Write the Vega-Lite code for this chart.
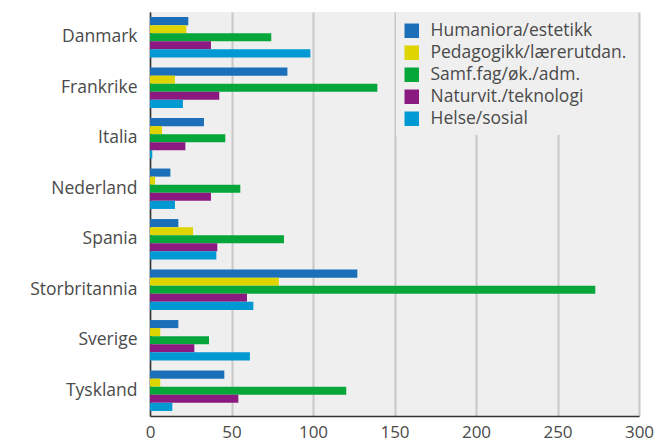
{
  "$schema": "https://vega.github.io/schema/vega-lite/v6.json",
  "autosize": {"type": "none"},
  "padding": {"left": 150, "top": 12, "right": 16, "bottom": 25},
  "width": 489,
  "height": 404,
  "background": "white",
  "data": {
    "values": [
      {"land": "Danmark", "fag": "Humaniora/estetikk", "verdi": 23.5},
      {"land": "Danmark", "fag": "Pedagogikk/lærerutdan.", "verdi": 22.3},
      {"land": "Danmark", "fag": "Samf.fag/øk./adm.", "verdi": 74.4},
      {"land": "Danmark", "fag": "Naturvit./teknologi", "verdi": 37.4},
      {"land": "Danmark", "fag": "Helse/sosial", "verdi": 98.4},
      {"land": "Frankrike", "fag": "Humaniora/estetikk", "verdi": 84.3},
      {"land": "Frankrike", "fag": "Pedagogikk/lærerutdan.", "verdi": 15.3},
      {"land": "Frankrike", "fag": "Samf.fag/øk./adm.", "verdi": 139.5},
      {"land": "Frankrike", "fag": "Naturvit./teknologi", "verdi": 42.5},
      {"land": "Frankrike", "fag": "Helse/sosial", "verdi": 20.2},
      {"land": "Italia", "fag": "Humaniora/estetikk", "verdi": 33.1},
      {"land": "Italia", "fag": "Pedagogikk/lærerutdan.", "verdi": 7.4},
      {"land": "Italia", "fag": "Samf.fag/øk./adm.", "verdi": 46.2},
      {"land": "Italia", "fag": "Naturvit./teknologi", "verdi": 21.7},
      {"land": "Italia", "fag": "Helse/sosial", "verdi": 1.4},
      {"land": "Nederland", "fag": "Humaniora/estetikk", "verdi": 12.5},
      {"land": "Nederland", "fag": "Pedagogikk/lærerutdan.", "verdi": 3.1},
      {"land": "Nederland", "fag": "Samf.fag/øk./adm.", "verdi": 55.4},
      {"land": "Nederland", "fag": "Naturvit./teknologi", "verdi": 37.4},
      {"land": "Nederland", "fag": "Helse/sosial", "verdi": 15.3},
      {"land": "Spania", "fag": "Humaniora/estetikk", "verdi": 17.4},
      {"land": "Spania", "fag": "Pedagogikk/lærerutdan.", "verdi": 26.4},
      {"land": "Spania", "fag": "Samf.fag/øk./adm.", "verdi": 82.2},
      {"land": "Spania", "fag": "Naturvit./teknologi", "verdi": 41.3},
      {"land": "Spania", "fag": "Helse/sosial", "verdi": 40.7},
      {"land": "Storbritannia", "fag": "Humaniora/estetikk", "verdi": 127.2},
      {"land": "Storbritannia", "fag": "Pedagogikk/lærerutdan.", "verdi": 79.1},
      {"land": "Storbritannia", "fag": "Samf.fag/øk./adm.", "verdi": 273.2},
      {"land": "Storbritannia", "fag": "Naturvit./teknologi", "verdi": 59.5},
      {"land": "Storbritannia", "fag": "Helse/sosial", "verdi": 63.4},
      {"land": "Sverige", "fag": "Humaniora/estetikk", "verdi": 17.4},
      {"land": "Sverige", "fag": "Pedagogikk/lærerutdan.", "verdi": 6.3},
      {"land": "Sverige", "fag": "Samf.fag/øk./adm.", "verdi": 36.2},
      {"land": "Sverige", "fag": "Naturvit./teknologi", "verdi": 27.2},
      {"land": "Sverige", "fag": "Helse/sosial", "verdi": 61.3},
      {"land": "Tyskland", "fag": "Humaniora/estetikk", "verdi": 45.6},
      {"land": "Tyskland", "fag": "Pedagogikk/lærerutdan.", "verdi": 6.3},
      {"land": "Tyskland", "fag": "Samf.fag/øk./adm.", "verdi": 120.4},
      {"land": "Tyskland", "fag": "Naturvit./teknologi", "verdi": 54.2},
      {"land": "Tyskland", "fag": "Helse/sosial", "verdi": 13.7}
    ]
  },
  "mark": {"type": "bar"},
  "encoding": {
    "y": {
      "field": "land",
      "type": "nominal",
      "sort": null,
      "scale": {"paddingInner": 0.2, "paddingOuter": 0.1},
      "axis": {
        "title": null,
        "domainColor": "#333333",
        "domainWidth": 1.5,
        "ticks": false,
        "labelPadding": 13,
        "labelFont": "Open Sans",
        "labelFontSize": 17.5,
        "labelColor": "#4a4a4a"
      }
    },
    "yOffset": {
      "field": "fag",
      "type": "nominal",
      "sort": ["Humaniora/estetikk", "Pedagogikk/lærerutdan.", "Samf.fag/øk./adm.", "Naturvit./teknologi", "Helse/sosial"],
      "scale": {"paddingInner": 0, "paddingOuter": 0}
    },
    "x": {
      "field": "verdi",
      "type": "quantitative",
      "scale": {"domain": [0, 300], "nice": false},
      "axis": {
        "title": null,
        "values": [0, 50, 100, 150, 200, 250, 300],
        "grid": true,
        "gridColor": "#c8c8c8",
        "gridWidth": 2,
        "domainColor": "#333333",
        "domainWidth": 1.5,
        "ticks": false,
        "labelFlush": false,
        "labelPadding": 8,
        "labelFont": "Open Sans",
        "labelFontSize": 17,
        "labelColor": "#4a4a4a"
      }
    },
    "color": {
      "field": "fag",
      "type": "nominal",
      "scale": {
        "domain": ["Humaniora/estetikk", "Pedagogikk/lærerutdan.", "Samf.fag/øk./adm.", "Naturvit./teknologi", "Helse/sosial"],
        "range": ["#1b6fb8", "#ddd400", "#05a63a", "#8a1a80", "#0099d3"]
      },
      "legend": {
        "title": "                                                                             ",
        "titleFont": "DejaVu Sans",
        "titleFontSize": 3,
        "titlePadding": 0,
        "titleLimit": 600,
        "orient": "none",
        "legendX": 246,
        "legendY": 0,
        "fillColor": "#efefef",
        "padding": 7,
        "symbolType": "square",
        "symbolSize": 210,
        "symbolStrokeWidth": 0,
        "labelFont": "Open Sans",
        "labelFontSize": 17.5,
        "labelColor": "#4a4a4a",
        "labelOffset": 10,
        "rowPadding": 3,
        "labelLimit": 400
      }
    }
  },
  "config": {
    "view": {"fill": "#efefef", "stroke": null}
  }
}
